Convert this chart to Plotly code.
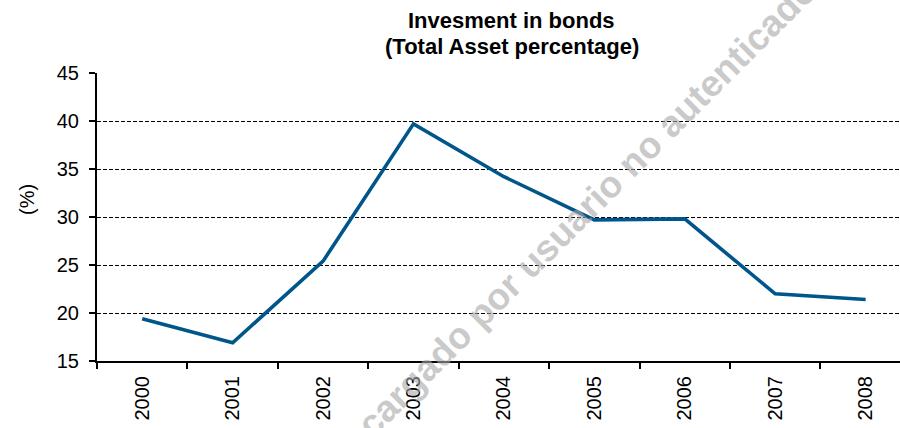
import plotly.graph_objects as go

years = ["2000", "2001", "2002", "2003", "2004", "2005", "2006", "2007", "2008"]
bonds_pct = [19.4, 16.9, 25.4, 39.7, 34.2, 29.7, 29.8, 22.0, 21.4]

title_line1 = "Invesment in bonds"
title_line2 = "(Total Asset percentage)"
y_title = "(%)"
watermark = "Descargado por usuario no autenticado"

FONT = "Liberation Sans, Arial, sans-serif"
L, T, B = 97, 73, 67
PW, PH = 900 - L, 428 - T - B


def px_x(px):
    return (px - L) / PW


def px_y(py):
    return (428 - B - py) / PH


fig = go.Figure()
fig.add_trace(go.Scatter(
    x=years, y=bonds_pct, mode="lines",
    line=dict(color="#00568a", width=3.6),
    showlegend=False, hoverinfo="skip",
))

fig.update_layout(
    width=900, height=428,
    margin=dict(l=L, r=0, t=T, b=B, autoexpand=False),
    paper_bgcolor="white", plot_bgcolor="white",
    font=dict(family=FONT, color="black", size=19),
    xaxis=dict(
        type="category", range=[-0.5, 8.38],
        showline=True, linecolor="black", linewidth=2,
        ticks="outside", tickson="boundaries", ticklen=6, tickwidth=1.5, tickcolor="black",
        tickangle=-90, showgrid=False, zeroline=False, ticklabelstandoff=5,
        tickfont=dict(family=FONT, size=20, color="black"),
    ),
    yaxis=dict(
        range=[15, 45], dtick=5, tick0=15,
        showline=True, linecolor="black", linewidth=2,
        ticks="outside", ticklen=6, tickwidth=1.5, tickcolor="black",
        showgrid=True, gridcolor="black", gridwidth=1, griddash="4px,2px",
        zeroline=False, ticklabelstandoff=6,
        tickfont=dict(family=FONT, size=20, color="black"),
    ),
    annotations=[
        dict(text="<b>" + title_line1 + "</b>", xref="paper", yref="paper",
             x=px_x(512), y=px_y(21), xanchor="center", yanchor="middle", showarrow=False,
             font=dict(family=FONT, size=22, color="black")),
        dict(text="<b>" + title_line2 + "</b>", xref="paper", yref="paper",
             x=px_x(512), y=px_y(46), xanchor="center", yanchor="middle", showarrow=False,
             font=dict(family=FONT, size=22, color="black")),
        dict(text=y_title, xref="paper", yref="paper", x=px_x(27), y=px_y(200),
             xanchor="center", yanchor="middle", textangle=-90, showarrow=False,
             font=dict(family=FONT, size=20, color="black")),
        dict(text="<b>" + watermark + "</b>", xref="paper", yref="paper",
             x=px_x(563), y=px_y(232),
             xanchor="center", yanchor="middle", textangle=-45, showarrow=False,
             opacity=0.6,
             font=dict(family=FONT, size=37, color="#a8a8a8")),
    ],
)

fig.write_html("out.html", post_script="document.body.style.margin='0px';",
               config={"displayModeBar": False})
